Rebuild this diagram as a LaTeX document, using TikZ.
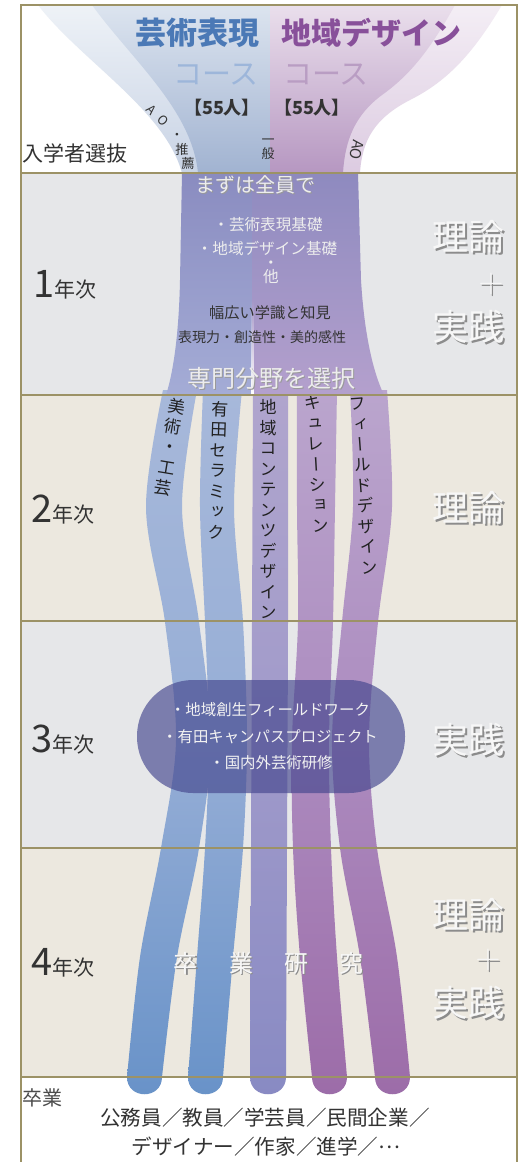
\documentclass[tikz,border=0pt]{standalone}
\usepackage[no-math]{fontspec}
\setmainfont{Noto Sans CJK JP}
\newfontfamily\vfont[RawFeature=+vert]{Noto Sans CJK JP}
\newfontfamily\fwfont[RawFeature=+fwid]{Noto Sans CJK JP}
\usetikzlibrary{fadings}
\definecolor{frameC}{HTML}{9C9266}
\definecolor{bandG}{HTML}{E6E7E9}
\definecolor{bandB}{HTML}{ECE8DF}
\definecolor{fbOutTop}{HTML}{EEF2F7}
\definecolor{fbOutBot}{HTML}{C8D3E5}
\definecolor{fpOutTop}{HTML}{F4EEF5}
\definecolor{fpOutBot}{HTML}{DCCBE1}
\definecolor{fbInTop}{HTML}{DCE4EF}
\definecolor{fbInBot}{HTML}{A1B3D1}
\definecolor{fpInTop}{HTML}{EADFEC}
\definecolor{fpInBot}{HTML}{B697C1}
\definecolor{colLT}{HTML}{8A8CC0}
\definecolor{colLB}{HTML}{A4ACD6}
\definecolor{colRT}{HTML}{8E8ABF}
\definecolor{colRB}{HTML}{B4A0CD}
\definecolor{sbT}{HTML}{A7B8DA}
\definecolor{sbM}{HTML}{96AED6}
\definecolor{sbB}{HTML}{6892C8}
\definecolor{slT}{HTML}{B0A5CD}
\definecolor{slM}{HTML}{A09ACA}
\definecolor{slB}{HTML}{888AC3}
\definecolor{spT}{HTML}{BAA5CD}
\definecolor{spM}{HTML}{AC8BBF}
\definecolor{spB}{HTML}{9C6CA8}
\definecolor{ovalC}{HTML}{45478E}
\definecolor{titleB}{HTML}{4B79B6}
\definecolor{titleP}{HTML}{88509A}
\definecolor{courseB}{HTML}{9DB6DA}
\definecolor{courseP}{HTML}{B99DC3}
\definecolor{txtD}{HTML}{333333}
\begin{document}
\begin{tikzpicture}[x=0.5pt,y=-0.5pt,
  lbl/.style={inner sep=0pt, outer sep=0pt},
  vlab/.style={inner sep=0pt, align=center, text=black!87, font=\vfont\fontsize{8.5}{10.25}\selectfont},
  emb/.style={inner sep=0pt, text=white!97!black, font=\fontsize{18}{18}\selectfont},
  embsh/.style={inner sep=0pt, text=black!45, font=\fontsize{18}{18}\selectfont},
  colw/.style={inner sep=0pt, text=white!93!black},
  colsh/.style={inner sep=0pt, text=black!40},
  ovtext/.style={inner sep=0pt, text=white!95!black, font=\fontsize{7.7}{7.7}\selectfont},
  yearlbl/.style={inner sep=0pt, anchor=base west, text=txtD},
  frameline/.style={draw=frameC, line width=1pt},
]
\useasboundingbox (0,0) rectangle (527,1162);
\fill[white] (0,0) rectangle (527,1162);
% bands
\fill[bandG] (21,173) rectangle (517,395);
\fill[bandB] (21,395) rectangle (517,621);
\fill[bandG] (21,621) rectangle (517,848);
\fill[bandB] (21,848) rectangle (517,1077);
% funnel outer
\shade[top color=fbOutTop, bottom color=fbOutBot] (38,5) .. controls (80,60) and (165,110) .. (182,173) -- (270,173) -- (270,5) -- cycle;
\shade[top color=fpOutTop, bottom color=fpOutBot] (502,5) .. controls (475,50) and (450,80) .. (410,100) .. controls (375,118) and (362,140) .. (360,173) -- (270,173) -- (270,5) -- cycle;
% funnel inner
\shade[top color=fbInTop, bottom color=fbInBot] (92,5) .. controls (132,60) and (192,110) .. (198,173) -- (270,173) -- (270,5) -- cycle;
\shade[top color=fpInTop, bottom color=fpInBot] (455,5) .. controls (430,50) and (410,75) .. (382,95) .. controls (355,115) and (345,140) .. (343,173) -- (270,173) -- (270,5) -- cycle;
% strands
\shade[top color=sbT, bottom color=sbB, middle color=sbM] plot[smooth,tension=0.55] coordinates {(163,390) (146,507) (165,622) (176,740) (161,848) (140,957) (127,1077)} .. controls (127,1100) and (162,1100) .. (162,1077) -- plot[smooth,tension=0.55] coordinates {(162,1077) (177,957) (199,848) (211,740) (199,622) (182,507) (197,390)} -- cycle;
\shade[top color=sbT, bottom color=sbB, middle color=sbM] plot[smooth,tension=0.55] coordinates {(203,390) (200,507) (205,622) (209,740) (205,848) (197,957) (188,1077)} .. controls (188,1100) and (223,1100) .. (223,1077) -- plot[smooth,tension=0.55] coordinates {(223,1077) (233,957) (243,848) (247,740) (243,622) (234,507) (242,390)} -- cycle;
\shade[top color=slT, bottom color=slB, middle color=slM] plot[smooth,tension=0.55] coordinates {(253,390) (252,622) (251,848) (250,1077)} .. controls (250,1100) and (286,1100) .. (286,1077) -- plot[smooth,tension=0.55] coordinates {(286,1077) (287,848) (288,622) (288,390)} -- cycle;
\shade[top color=spT, bottom color=spB, middle color=spM] plot[smooth,tension=0.55] coordinates {(297,390) (297,507) (298,622) (292,740) (293,848) (300,957) (312,1077)} .. controls (312,1100) and (347,1100) .. (347,1077) -- plot[smooth,tension=0.55] coordinates {(347,1077) (337,957) (331,848) (329,740) (333,622) (335,507) (337,390)} -- cycle;
\shade[top color=spT, bottom color=spB, middle color=spM] plot[smooth,tension=0.55] coordinates {(350,390) (353,507) (342,622) (332,740) (340,848) (360,957) (375,1077)} .. controls (375,1100) and (410,1100) .. (410,1077) -- plot[smooth,tension=0.55] coordinates {(410,1077) (397,957) (377,848) (369,740) (378,622) (392,507) (387,390)} -- cycle;
% year-1 column
\shade[top color=colLT, bottom color=colLB] (182,173) -- (252,173) -- (252,395) -- (166,395) .. controls (174,370) and (179,330) .. (180,280) -- cycle;
\shade[top color=colRT, bottom color=colRB] (252,173) -- (358,173) -- (361,280) .. controls (364,330) and (372,370) .. (384,395) -- (252,395) -- cycle;
\fill[white, path fading=north] (251,300) rectangle (253.5,395);
% oval
\fill[ovalC, opacity=0.66, rounded corners=28pt] (137,680) rectangle (405,793);
% header texts
\node[lbl, text=titleB, font=\bfseries\fontsize{15.5}{15.5}\selectfont] (t1) at (197,33) {芸術表現};
\node[lbl, text=titleP, font=\bfseries\fontsize{15}{15}\selectfont] (t2) at (371,33) {地域デザイン};
\node[lbl, text=courseB, font=\fontsize{14.5}{14.5}\selectfont] (c1) at (216,75) {コース};
\node[lbl, text=courseP, font=\fontsize{14.5}{14.5}\selectfont] (c2) at (326,75) {コース};
\node[lbl, text=txtD, font=\bfseries\fontsize{9}{9}\selectfont] (n1) at (222,108) {【55人】};
\node[lbl, text=txtD, font=\bfseries\fontsize{9}{9}\selectfont] (n2) at (312,108) {【55人】};
\node[lbl, anchor=west, text=txtD, font=\fontsize{10.5}{10.5}\selectfont] (nyu) at (22,153) {入学者選抜};
\node[lbl, rotate=-45, text=txtD, font=\fontsize{6.4}{6.4}\selectfont] (aoA) at (152,110) {A};
\node[lbl, rotate=-45, text=txtD, font=\fontsize{6.4}{6.4}\selectfont] (aoO) at (163,121) {O};
\node[lbl, text=txtD, font=\fontsize{6.4}{6.4}\selectfont] (aoDot) at (177,136) {・};
\node[lbl, text=txtD, font=\fontsize{6.6}{6.6}\selectfont] (sui) at (182,149) {推};
\node[lbl, text=txtD, font=\fontsize{6.6}{6.6}\selectfont] (sen) at (188,163) {薦};
\node[lbl, align=center, text=txtD, font=\vfont\fontsize{6.5}{7}\selectfont] (ippan) at (268,149) {一\\般};
\node[lbl, rotate=-100, text=txtD, font=\fontsize{7.5}{7.5}\selectfont] (aoR) at (357,150) {AO};
% year 1 column texts
\node[colsh, font=\fontsize{10}{10}\selectfont] (m0s) at (256,186) {まずは全員で};
\node[colw, font=\fontsize{10}{10}\selectfont] (m0) at (255,185) {まずは全員で};
\node[colw, font=\fontsize{7.8}{7.8}\selectfont] (m1) at (268,225) {・芸術表現基礎};
\node[colw, font=\fontsize{7.8}{7.8}\selectfont] (m2) at (267,248) {・地域デザイン基礎};
\node[colw, font=\fontsize{7.8}{7.8}\selectfont] (m3) at (271,265) {・};
\node[colw, font=\fontsize{7.8}{7.8}\selectfont] (m4) at (271,277) {他};
\node[lbl, text=txtD, font=\fontsize{7.6}{7.6}\selectfont] (m5) at (270,313) {幅広い学識と知見};
\node[lbl, text=txtD, font=\fontsize{7}{7}\selectfont] (m6) at (262,337) {表現力・創造性・美的感性};
\node[colsh, font=\fontsize{12}{12}\selectfont] (m7s) at (272,379) {専門分野を選択};
\node[colw, font=\fontsize{12}{12}\selectfont] (m7) at (271,378) {専門分野を選択};
% strand labels
\node[vlab, rotate=-9.5] (v1) at (170,447) {美\\術\\・\\工\\芸};
\node[vlab, rotate=-2] (v2) at (218,470) {有\\田\\セ\\ラ\\ミ\\ッ\\ク};
\node[vlab] (v3) at (268,509) {地\\域\\コ\\ン\\テ\\ン\\ツ\\デ\\ザ\\イ\\ン};
\node[vlab, rotate=3.4] (v4) at (316.5,464) {キ\\ュ\\レ\\ー\\シ\\ョ\\ン};
\node[vlab, rotate=4.2] (v5) at (364,486) {フ\\ィ\\ー\\ル\\ド\\デ\\ザ\\イ\\ン};
% oval texts
\node[ovtext] (o1) at (270,710) {・地域創生フィールドワーク};
\node[ovtext] (o2) at (270,737) {・有田キャンパスプロジェクト};
\node[ovtext] (o3) at (271,763) {・国内外芸術研修};
% year 4 text
\node[embsh, font=\fontsize{12}{12}\selectfont] (sots) at (270,964.5) {卒\hspace{15.6pt}業\hspace{15.6pt}研\hspace{15.6pt}究};
\node[emb, font=\fontsize{12}{12}\selectfont] (sot) at (268.75,963) {卒\hspace{15.6pt}業\hspace{15.6pt}研\hspace{15.6pt}究};
% year labels
\node[yearlbl] (y1) at (33,297) {\fontsize{19}{19}\selectfont 1\fontsize{10.5}{10.5}\selectfont 年次};
\node[yearlbl] (y2) at (31,522) {\fontsize{19}{19}\selectfont 2\fontsize{10.5}{10.5}\selectfont 年次};
\node[yearlbl] (y3) at (31,752) {\fontsize{19}{19}\selectfont 3\fontsize{10.5}{10.5}\selectfont 年次};
\node[yearlbl] (y4) at (31,975) {\fontsize{19}{19}\selectfont 4\fontsize{10.5}{10.5}\selectfont 年次};
% right labels
\node[embsh] (r1as) at (470,238.5) {理論};
\node[emb] (r1a) at (468.5,237) {理論};
\node[embsh] (r1bs) at (492.5,285.5) {$+$};
\node[emb] (r1b) at (491,284) {$+$};
\node[embsh] (r1cs) at (470,328.5) {実践};
\node[emb] (r1c) at (468.5,327) {実践};
\node[embsh] (r2s) at (470,509.5) {理論};
\node[emb] (r2) at (468.5,508) {理論};
\node[embsh] (r3s) at (470,741.5) {実践};
\node[emb] (r3) at (468.5,740) {実践};
\node[embsh] (r4as) at (470,916.5) {理論};
\node[emb] (r4a) at (468.5,915) {理論};
\node[embsh] (r4bs) at (489.5,961.5) {$+$};
\node[emb] (r4b) at (488,960) {$+$};
\node[embsh] (r4cs) at (470,1004.5) {実践};
\node[emb] (r4c) at (468.5,1003) {実践};
% bottom
\node[lbl, anchor=west, text=black!70, font=\fontsize{10}{10}\selectfont] (grad) at (22,1098) {卒業};
\node[lbl, text=txtD, font=\fontsize{10.3}{10.3}\selectfont] (car1) at (265,1118) {公務員／教員／学芸員／民間企業／};
\node[lbl, text=txtD, font=\fontsize{10.3}{10.3}\selectfont] (car2) at (266,1147) {デザイナー／作家／進学／\raisebox{0.33em}{\fwfont …}};
% frame
\draw[frameline] (21,1162) -- (21,5) -- (517,5) -- (517,1162);
\foreach \yy in {173,395,621,848,1077} { \draw[frameline] (21,\yy) -- (517,\yy); }
\end{tikzpicture}
\end{document}
